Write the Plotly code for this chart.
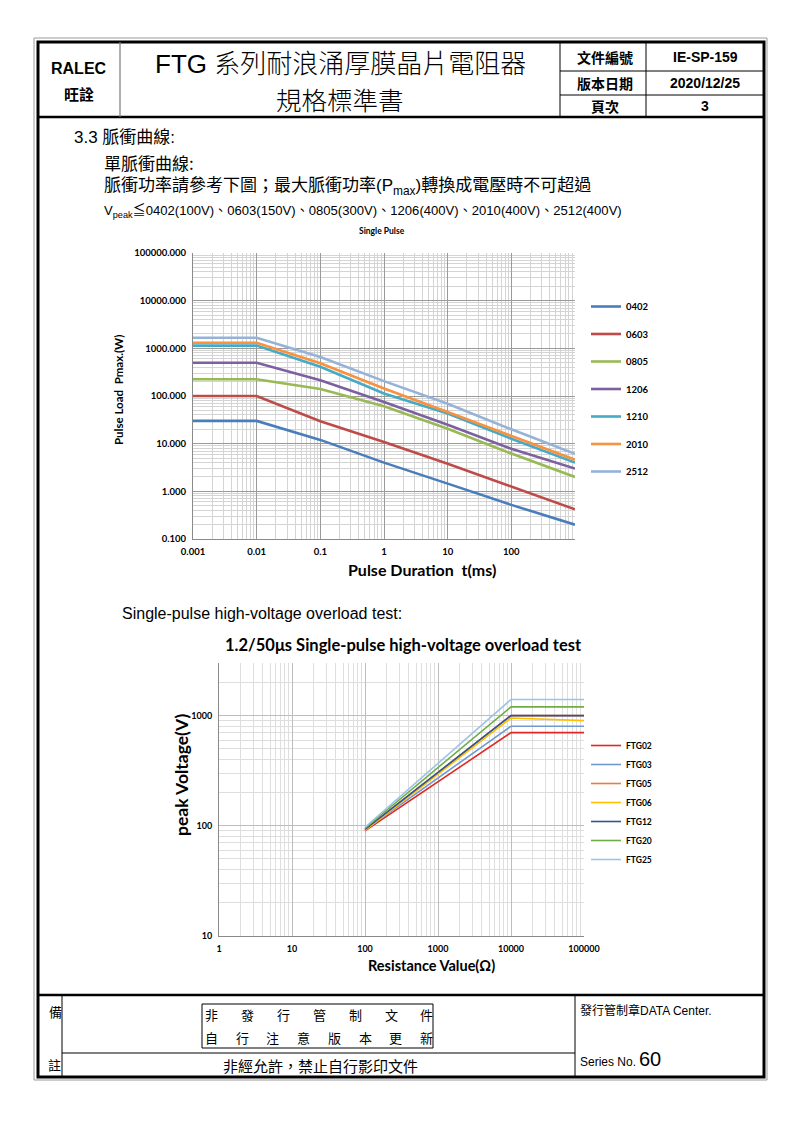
import plotly.graph_objects as go
import math

W, H = 794, 1123

# ---------------- Data: chart 1 (Single Pulse) ----------------
pulse_t = [0.001, 0.01, 0.1, 1, 10, 100, 1000]
pulse_series = ["0402", "0603", "0805", "1206", "1210", "2010", "2512"]
p_0402 = [30, 30, 12, 4.0, 1.45, 0.52, 0.20]
p_0603 = [100, 100, 29.5, 10.8, 3.8, 1.25, 0.42]
p_0805 = [225, 225, 140, 61, 20.5, 6.2, 2.0]
p_1206 = [500, 500, 215, 75, 25, 7.8, 3.0]
p_1210 = [1140, 1140, 410, 113, 43, 12.7, 4.0]
p_2010 = [1310, 1310, 485, 144, 46, 14.3, 4.6]
p_2512 = [1670, 1670, 660, 205, 69, 20, 6.1]
pulse_values = [p_0402, p_0603, p_0805, p_1206, p_1210, p_2010, p_2512]
pulse_colors = ["#4A7EBB", "#BE4B48", "#98B954", "#7D60A0", "#46AAC5", "#F69240", "#95B3D7"]
pulse_ytick_vals = [0.1, 1, 10, 100, 1000, 10000, 100000]
pulse_ytick_text = ["0.100", "1.000", "10.000", "100.000", "1000.000", "10000.000", "100000.000"]
pulse_xtick_vals = [0.001, 0.01, 0.1, 1, 10, 100]
pulse_xtick_text = ["0.001", "0.01", "0.1", "1", "10", "100"]

# ---------------- Data: chart 2 (overload test) ----------------
res_x = [100, 10000, 100000]
hv_series = ["FTG02", "FTG03", "FTG05", "FTG06", "FTG12", "FTG20", "FTG25"]
v_ftg02 = [90, 700, 700]
v_ftg03 = [92, 800, 800]
v_ftg05 = [93, 1000, 1000]
v_ftg06 = [91, 950, 900]
v_ftg12 = [93, 1000, 1000]
v_ftg20 = [95, 1200, 1200]
v_ftg25 = [97, 1400, 1400]
hv_values = [v_ftg02, v_ftg03, v_ftg05, v_ftg06, v_ftg12, v_ftg20, v_ftg25]
hv_colors = ["#E3261F", "#6F9BD0", "#ED7D31", "#FFC000", "#2F5597", "#70AD47", "#9DC3E6"]
hv_xtick_vals = [1, 10, 100, 1000, 10000, 100000]
hv_xtick_text = ["1", "10", "100", "1000", "10000", "100000"]
hv_ytick_vals = [10, 100, 1000]
hv_ytick_text = ["10", "100", "1000"]


def px(x):
    return x / W


def py(y):
    return 1 - y / H


fig = go.Figure()

for name, vals, col in zip(pulse_series, pulse_values, pulse_colors):
    fig.add_trace(go.Scatter(x=pulse_t, y=vals, mode="lines", name=name,
                             line=dict(color=col, width=2.6),
                             xaxis="x", yaxis="y", legend="legend",
                             legendgroup=name))

for name, vals, col in zip(hv_series, hv_values, hv_colors):
    fig.add_trace(go.Scatter(x=res_x, y=vals, mode="lines", name=name,
                             line=dict(color=col, width=1.6),
                             xaxis="x2", yaxis="y2", legend="legend2"))

CHF = "Lato, DejaVu Sans"
tickf1 = dict(family=CHF, size=9.5, color="#000", weight="bold")
tickf2 = dict(family=CHF, size=9, color="#000", weight="bold")


def logaxis(domain, anchor, rng, tv, tt, tf, major, minor):
    return dict(domain=domain, anchor=anchor, type="log", range=rng,
                tickmode="array", tickvals=tv, ticktext=tt,
                showgrid=True, gridcolor=major, gridwidth=1,
                minor=dict(dtick="D1", showgrid=True, gridcolor=minor, gridwidth=1, ticks=""),
                showline=True, linecolor="#8a8a8a", linewidth=1,
                ticks="", tickfont=tf, ticklabelstandoff=4,
                automargin=False, zeroline=False)


fig.update_layout(
    template="none",
    width=W, height=H, margin=dict(l=0, r=0, t=0, b=0, pad=0, autoexpand=False),
    paper_bgcolor="white", plot_bgcolor="white", showlegend=True,
    xaxis=logaxis([px(193), px(575)], "y", [-3, 3], pulse_xtick_vals, pulse_xtick_text,
                  tickf1, "#9a9a9a", "#d4d4d4"),
    yaxis=logaxis([py(539), py(253)], "x", [-1, 5], pulse_ytick_vals, pulse_ytick_text,
                  tickf1, "#9a9a9a", "#d4d4d4"),
    xaxis2=logaxis([px(219), px(584)], "y2", [0, 5], hv_xtick_vals, hv_xtick_text,
                   tickf2, "#bdbdbd", "#dedede"),
    yaxis2=logaxis([py(936), py(663)], "x2", [1, math.log10(3000)], hv_ytick_vals, hv_ytick_text,
                   tickf2, "#bdbdbd", "#dedede"),
    legend=dict(x=px(586), y=py(292), xanchor="left", yanchor="top",
                font=dict(family=CHF, size=9.5, weight="bold", color="#000"),
                bgcolor="rgba(0,0,0,0)", borderwidth=0, tracegroupgap=8.5, itemwidth=30,
                traceorder="grouped"),
    legend2=dict(x=px(586), y=py(731), xanchor="left", yanchor="top",
                 font=dict(family=CHF, size=8.5, weight="bold", color="#000"),
                 bgcolor="rgba(0,0,0,0)", borderwidth=0, itemwidth=30,
                 traceorder="normal"),
)

shapes = []


def line(x0, y0, x1, y1, color="#000", width=1):
    shapes.append(dict(type="line", xref="paper", yref="paper",
                       x0=px(x0), y0=py(y0), x1=px(x1), y1=py(y1),
                       line=dict(color=color, width=width)))


def rect(x0, y0, x1, y1, color="#000", width=1):
    shapes.append(dict(type="rect", xref="paper", yref="paper",
                       x0=px(x0), y0=py(y0), x1=px(x1), y1=py(y1),
                       line=dict(color=color, width=width)))


# page frame
rect(34, 38, 767, 1080, color="#9a9a9a", width=1)
rect(38, 42, 764, 1077, color="#000", width=3)
# header
line(38, 117, 764, 117, width=2.5)
line(120, 42, 120, 117, color="#7a7a7a", width=1.2)
line(560, 42, 560, 117, width=1)
line(646, 42, 646, 117, width=1)
line(560, 71, 764, 71, width=1)
line(560, 95, 764, 95, width=1)
# footer
line(38, 995, 764, 995, width=2.5)
line(62, 995, 62, 1077, width=1)
line(575, 995, 575, 1077, width=1)
line(62, 1053, 575, 1053, width=1)
rect(202, 1004, 433, 1048, width=1)

fig.update_layout(shapes=shapes)

ann = []
CJK = "Noto Sans CJK TC"


def text(x, y, s, size=14, family=CJK, weight="normal", xanchor="left", color="#000", angle=0):
    ann.append(dict(xref="paper", yref="paper", x=px(x), y=py(y), text=s,
                    showarrow=False, xanchor=xanchor, yanchor="middle", textangle=angle,
                    font=dict(family=family, size=size, weight=weight, color=color)))


# header texts
text(79, 69, "RALEC", size=16, family="Liberation Sans", weight="bold", xanchor="center")
text(79, 93, "旺詮", size=15, family=CJK, weight="bold", xanchor="center")
text(340, 64, "FTG 系列耐浪涌厚膜晶片電阻器", size=26, family="Liberation Sans, " + CJK,
     weight=300, xanchor="center")
text(340, 98, "規格標準書", size=25.5, family=CJK, weight=300, xanchor="center")
text(605, 57, "文件編號", size=14, weight="bold", xanchor="center")
text(605, 83, "版本日期", size=14, weight="bold", xanchor="center")
text(605, 106, "頁次", size=14, weight="bold", xanchor="center")
text(705, 57, "IE-SP-159", size=14, family="Liberation Sans", weight="bold", xanchor="center")
text(705, 83, "2020/12/25", size=14, family="Liberation Sans", weight="bold", xanchor="center")
text(705, 106, "3", size=14, family="Liberation Sans", weight="bold", xanchor="center")

# body texts
text(72, 138, "3.3 脈衝曲線:", size=17, family="Liberation Sans, " + CJK)
text(102, 162, "單脈衝曲線:", size=17)
text(102, 187, "脈衝功率請參考下圖；最大脈衝功率(P<sub>max</sub>)轉換成電壓時不可超過", size=17,
     family="Liberation Sans, " + CJK)
text(102, 211, "V<sub>peak</sub>≦0402(100V)、0603(150V)、0805(300V)、1206(400V)、2010(400V)、2512(400V)",
     size=13.1, family="Liberation Sans, " + CJK)

# chart 1 titles
text(382, 231, "Single Pulse", size=8.5, family=CHF, weight="bold", xanchor="center")
text(422, 569, "Pulse Duration  t(ms)", size=16, family=CHF, weight="bold", xanchor="center")
text(118, 390, "Pulse Load  Pmax.(W)", size=11.5, family=CHF, weight="bold", xanchor="center", angle=-90)

# chart 2 titles
text(120, 613, "Single-pulse high-voltage overload test:", size=16, family="Liberation Sans")
text(403, 645, "1.2/50μs Single-pulse high-voltage overload test", size=16.5,
     family=CHF, weight="bold", xanchor="center")
text(431, 965, "Resistance Value(Ω)", size=14.5, family=CHF, weight="bold", xanchor="center")
text(181, 775, "peak Voltage(V)", size=17.5, family=CHF, weight="bold", xanchor="center", angle=-90)

# footer texts
text(55, 1011, "備", size=13, xanchor="center")
text(54, 1064, "註", size=13, xanchor="center")
row1 = ["非", "發", "行", "管", "制", "文", "件"]
row1_x = [211, 247, 283, 319, 355, 391, 426]
for ch, xx in zip(row1, row1_x):
    text(xx, 1015, ch, size=13, xanchor="center")
row2 = ["自", "行", "注", "意", "版", "本", "更", "新"]
row2_x = [211, 242, 272, 303, 334, 365, 395, 426]
for ch, xx in zip(row2, row2_x):
    text(xx, 1037, ch, size=13, xanchor="center")
text(320, 1065, "非經允許，禁止自行影印文件", size=15, xanchor="center")
text(578, 1010, "發行管制章DATA Center.", size=12, family="Liberation Sans, " + CJK)
text(578, 1062, "Series No.", size=12, family="Liberation Sans")
text(637, 1059, "60", size=20, family="Liberation Sans")

fig.update_layout(annotations=ann)

fig.write_html("out.html", config={"displayModeBar": False},
               post_script="document.body.style.margin='0';")
